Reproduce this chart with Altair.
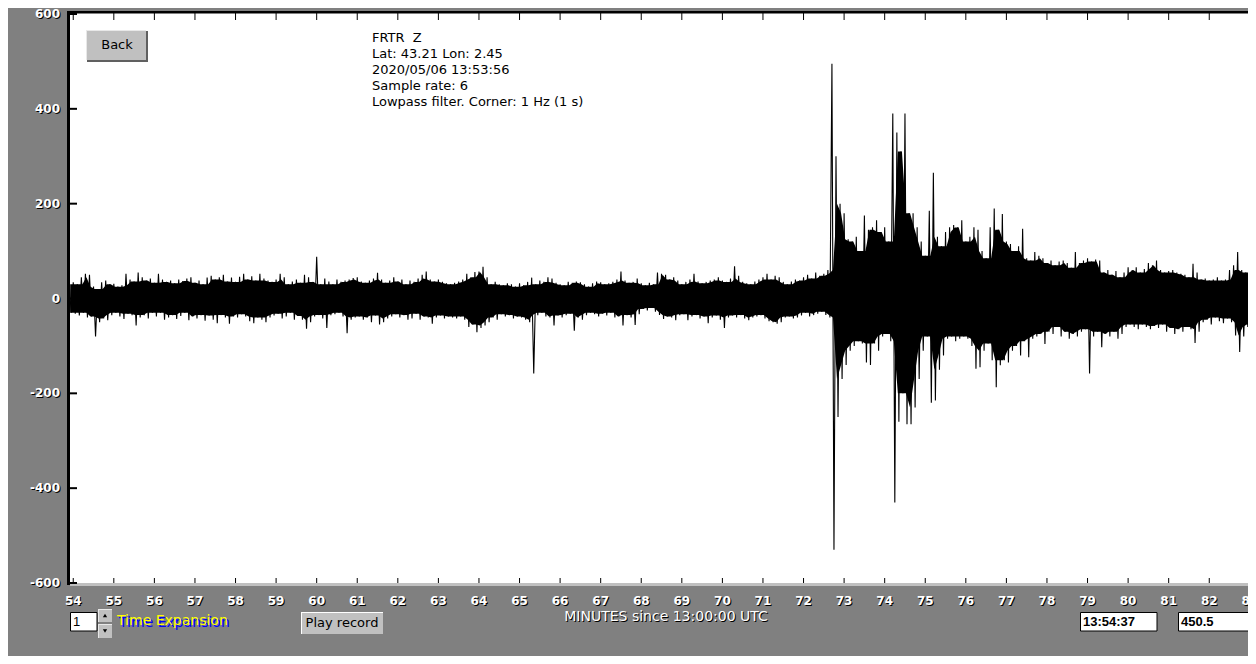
import altair as alt
import pandas as pd

# ---- trace envelope (max / min per 0.1-minute bin) ----
UPPER = [
    30,
    34, 30, 45, 52, 50, 25, 20, 34, 38, 30,
    31, 25, 28, 52, 40, 36, 55, 45, 38, 42,
    33, 52, 40, 35, 38, 32, 40, 37, 42, 45,
    33, 38, 30, 44, 48, 40, 45, 50, 36, 44,
    35, 46, 52, 40, 47, 38, 52, 42, 38, 35,
    40, 52, 45, 30, 36, 40, 33, 50, 45, 35,
    88, 30, 42, 36, 30, 40, 35, 38, 40, 43,
    45, 36, 33, 38, 42, 54, 40, 33, 38, 45,
    36, 40, 30, 38, 35, 42, 50, 57, 40, 36,
    40, 35, 32, 30, 33, 36, 40, 52, 45, 56,
    57, 67, 45, 30, 35, 30, 28, 32, 30, 25,
    32, 28, 35, 44, 30, 38, 35, 45, 42, 33,
    30, 28, 35, 33, 36, 34, 30, 25, 32, 36,
    34, 30, 32, 35, 40, 57, 38, 33, 35, 42,
    32, 28, 33, 30, 55, 52, 50, 40, 45, 38,
    30, 35, 40, 52, 36, 32, 35, 38, 40, 45,
    38, 35, 42, 68, 48, 35, 32, 30, 36, 40,
    45, 52, 40, 48, 45, 35, 30, 36, 40, 38,
    45, 50, 42, 55, 48, 52, 60, 495, 300, 200,
    180, 125, 120, 130, 100, 175, 145, 150, 165, 140,
    150, 120, 390, 350, 310, 390, 180, 180, 150, 120,
    90, 185, 265, 130, 110, 140, 150, 155, 150, 165,
    120, 130, 150, 145, 100, 85, 150, 190, 145, 178,
    120, 115, 100, 110, 147, 85, 80, 98, 90, 85,
    75, 80, 70, 78, 80, 75, 65, 98, 75, 80,
    85, 78, 82, 80, 55, 60, 50, 58, 45, 55,
    66, 60, 66, 55, 62, 75, 70, 80, 60, 55,
    58, 60, 55, 52, 50, 45, 73, 55, 40, 42,
    38, 40, 45, 38, 40, 60, 70, 98, 60, 55,
    60, 100, 70,
]
LOWER = [
    -30,
    -32, -36, -30, -40, -38, -80, -50, -42, -46, -35,
    -30, -38, -43, -32, -35, -57, -40, -35, -42, -30,
    -38, -30, -45, -40, -35, -43, -37, -30, -46, -38,
    -42, -35, -47, -36, -45, -52, -35, -40, -53, -38,
    -40, -33, -38, -48, -52, -40, -45, -50, -40, -36,
    -32, -42, -38, -30, -45, -37, -45, -64, -50, -38,
    -35, -42, -62, -35, -33, -30, -38, -73, -45, -40,
    -38, -45, -40, -50, -36, -55, -50, -42, -38, -33,
    -40, -35, -45, -42, -32, -45, -38, -40, -53, -40,
    -36, -42, -38, -40, -42, -38, -45, -60, -55, -71,
    -62, -57, -50, -40, -45, -33, -38, -35, -42, -38,
    -40, -45, -50, -158, -35, -30, -38, -40, -57, -36,
    -40, -35, -32, -68, -40, -45, -35, -30, -33, -38,
    -32, -36, -30, -40, -38, -57, -35, -40, -56, -33,
    -22, -25, -20, -28, -35, -43, -38, -40, -46, -35,
    -33, -46, -38, -35, -42, -38, -52, -40, -36, -45,
    -62, -40, -36, -40, -35, -42, -46, -40, -38, -35,
    -42, -48, -50, -53, -50, -40, -38, -42, -40, -36,
    -30, -38, -35, -32, -28, -35, -40, -530, -250, -170,
    -140, -110, -100, -90, -95, -135, -140, -95, -110, -80,
    -75, -90, -430, -260, -200, -265, -265, -230, -170, -110,
    -80, -220, -215, -150, -120, -85, -80, -90, -85, -80,
    -85, -100, -148, -145, -110, -95, -130, -187, -141, -130,
    -135, -110, -100, -120, -90, -124, -85, -80, -75, -96,
    -70, -75, -60, -80, -70, -85, -75, -80, -70, -65,
    -158, -80, -70, -103, -75, -80, -70, -85, -75, -60,
    -55, -60, -65, -55, -60, -65, -58, -62, -55, -70,
    -62, -75, -65, -70, -60, -65, -94, -70, -50, -45,
    -55, -40, -48, -52, -42, -50, -78, -113, -80, -60,
    -55, -110, -60,
]
T_START = 53.9      # minute of first bin
T_STEP = 0.1        # minutes per bin
TIMES = [round(T_START + T_STEP * i, 2) for i in range(len(UPPER))]

Y_TICKS = [600, 400, 200, 0, -200, -400, -600]
X_TICKS = list(range(54, 84))
INFO_LINES = ["FRTR\u00a0 Z", "Lat: 43.21 Lon: 2.45", "2020/05/06 13:53:56",
              "Sample rate: 6", "Lowpass filter. Corner: 1 Hz (1 s)"]
X_TITLE = "MINUTES since 13:00:00 UTC"
EXPANSION = "1"
TIME_BOX = "13:54:37"
VALUE_BOX = "450.5"

# ---- layout ----
W, H = 1178, 569
XDOM = [53.92, 82.955]
YDOM = [-600, 600]
BG = "#808080"
FACE = "#c0c0c0"

xs = alt.Scale(domain=XDOM, nice=False, zero=False)
ys = alt.Scale(domain=YDOM, nice=False, zero=False)

# zig-zag through each bin's maximum then minimum (the spikes)
zig_t, zig_v = [], []
for t, u, l in zip(TIMES, UPPER, LOWER):
    zig_t += [t, t + T_STEP / 2]
    zig_v += [u, l]
trace_df = pd.DataFrame({"t": zig_t, "v": zig_v, "i": range(len(zig_t))})

# dense core of the trace: the band reached in every neighbouring bin
n = len(UPPER)
core_u = [min(UPPER[max(0, i - 1):i + 2]) for i in range(n)]
core_l = [max(LOWER[max(0, i - 1):i + 2]) for i in range(n)]
core_df = pd.DataFrame({"t": [t + T_STEP / 4 for t in TIMES], "u": core_u, "l": core_l})

ytick_df = pd.DataFrame({"v": Y_TICKS, "lab": [str(v) for v in Y_TICKS]})
xtick_df = pd.DataFrame({"v": X_TICKS, "lab": [str(v) for v in X_TICKS]})
one = pd.DataFrame({"k": [0]})

layers = []

layers.append(alt.Chart(core_df).mark_area(
    color="black", clip=True, interpolate="linear", opacity=1
).encode(
    x=alt.X("t:Q", scale=xs, axis=None),
    y=alt.Y("u:Q", scale=ys, axis=None),
    y2="l:Q",
))
layers.append(alt.Chart(trace_df).mark_line(
    color="black", strokeWidth=1.1, clip=True, interpolate="linear"
).encode(
    x=alt.X("t:Q", scale=xs, axis=None),
    y=alt.Y("v:Q", scale=ys, axis=None),
    order="i:Q",
))


def rect(x1, y1, x2, y2, fill, stroke=None):
    kw = dict(fill=fill, opacity=1)
    if stroke:
        kw.update(stroke=stroke, strokeWidth=1)
    else:
        kw.update(strokeWidth=0)
    return alt.Chart(one).mark_rect(**kw).encode(
        x=alt.value(x1), x2=alt.value(x2), y=alt.value(y1), y2=alt.value(y2))


def text(s, x, y, color="black", size=13, weight="normal", align="left",
         font="DejaVu Sans", dx=0, dy=0):
    return alt.Chart(one).mark_text(
        text=s, align=align, baseline="middle", font=font, fontSize=size,
        fontWeight=weight, color=color, dx=dx, dy=dy
    ).encode(x=alt.value(x), y=alt.value(y))


# frame lines
layers.append(alt.Chart(one).mark_rule(color="black", strokeWidth=3).encode(
    x=alt.value(-1.5), y=alt.value(-3), y2=alt.value(571)))
layers.append(alt.Chart(one).mark_rule(color="black", strokeWidth=2).encode(
    y=alt.value(-2), x=alt.value(-3), x2=alt.value(W)))
layers.append(alt.Chart(one).mark_rule(color=FACE, strokeWidth=3).encode(
    y=alt.value(570.5), x=alt.value(0), x2=alt.value(W)))

# y ticks and labels
layers.append(alt.Chart(ytick_df).mark_rule(color="black", strokeWidth=2).encode(
    y=alt.Y("v:Q", scale=ys, axis=None), x=alt.value(0), x2=alt.value(7)))
for col, d in (("black", 1), ("white", 0)):
    layers.append(alt.Chart(ytick_df).mark_text(
        align="right", baseline="middle", font="DejaVu Sans", fontSize=12,
        fontWeight="bold", color=col, dx=d, dy=d
    ).encode(y=alt.Y("v:Q", scale=ys, axis=None), x=alt.value(-10), text="lab:N"))

# x ticks (inside, top and bottom) and labels
layers.append(alt.Chart(xtick_df).mark_rule(color="black", strokeWidth=1).encode(
    x=alt.X("v:Q", scale=xs, axis=None), y=alt.value(564), y2=alt.value(569)))
layers.append(alt.Chart(xtick_df).mark_rule(color="black", strokeWidth=1).encode(
    x=alt.X("v:Q", scale=xs, axis=None), y=alt.value(-1), y2=alt.value(6)))
for col, d in (("black", 1), ("white", 0)):
    layers.append(alt.Chart(xtick_df).mark_text(
        align="center", baseline="middle", font="DejaVu Sans", fontSize=12,
        fontWeight="bold", color=col, dx=d, dy=d
    ).encode(x=alt.X("v:Q", scale=xs, axis=None), y=alt.value(587), text="lab:N"))

# axis title
layers.append(text(X_TITLE, 596, 603, color="black", size=14, align="center", dx=1, dy=1))
layers.append(text(X_TITLE, 596, 603, color="white", size=14, align="center"))

# info block
for i, line in enumerate(INFO_LINES):
    layers.append(text(line, 302, 24 + 16 * i, size=13))

# Back button
layers.append(rect(17, 17, 78, 48, "#606060"))
layers.append(rect(16, 16, 76, 46, "#e8e8e8"))
layers.append(rect(17, 17, 76, 46, FACE))
layers.append(text("Back", 47, 31, size=13, align="center"))

# expansion box + spinner
layers.append(rect(0.5, 598.5, 27, 617, "white", stroke="black"))
layers.append(text(EXPANSION, 3, 607.5, size=13, font="Liberation Sans"))
layers.append(rect(28, 595, 42, 608, "#e8e8e8"))
layers.append(rect(29, 596, 42, 608, FACE))
layers.append(rect(28, 610, 42, 624, "#e8e8e8"))
layers.append(rect(29, 611, 42, 624, FACE))
layers.append(alt.Chart(one).mark_point(shape="triangle-up", filled=True, color="black",
                                        size=18, opacity=1).encode(
    x=alt.value(35), y=alt.value(601.5)))
layers.append(alt.Chart(one).mark_point(shape="triangle-down", filled=True, color="black",
                                        size=18, opacity=1).encode(
    x=alt.value(35), y=alt.value(617)))
layers.append(text("Time Expansion", 47, 607, color="#0000ff", size=14, dx=2, dy=2))
layers.append(text("Time Expansion", 47, 607, color="#ffff00", size=14))

# Play record button
layers.append(rect(231, 598, 313, 620, "white"))
layers.append(rect(232, 599, 313, 620, FACE))
layers.append(text("Play record", 272, 609, size=13, align="center"))

# readout boxes
layers.append(rect(1010.5, 598.5, 1087, 617, "white", stroke="black"))
layers.append(text(TIME_BOX, 1013, 608, size=13, weight="bold", font="Liberation Sans"))
layers.append(rect(1108.5, 598.5, 1200, 617, "white", stroke="black"))
layers.append(text(VALUE_BOX, 1111, 608, size=13, weight="bold", font="Liberation Sans"))

chart = alt.layer(*layers).properties(
    width=W, height=H,
    autosize=alt.AutoSizeParams(type="none"),
    padding={"left": 62, "top": 6, "right": 0, "bottom": 73},
    background=BG,
).configure_view(fill="white", strokeWidth=0)

chart.save("out.html", embed_options={"renderer": "svg", "actions": False})
